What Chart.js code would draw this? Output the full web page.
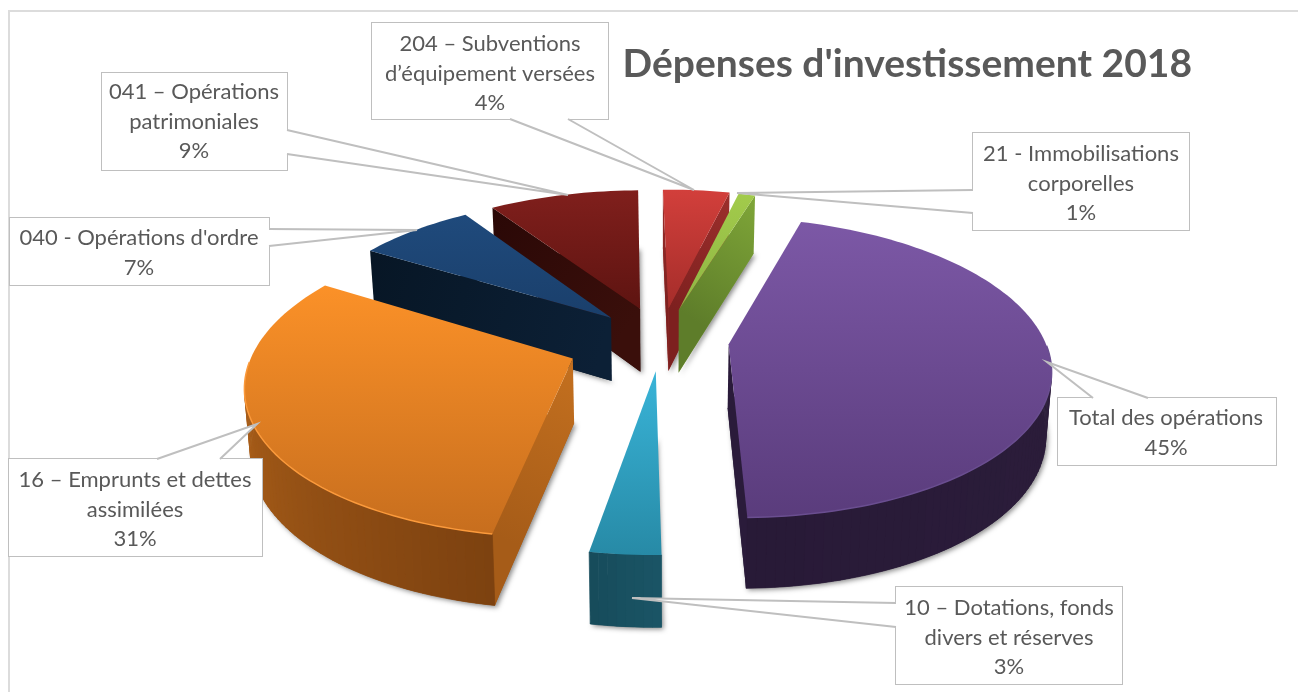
<!DOCTYPE html>
<html lang="fr">
<head>
<meta charset="utf-8">
<title>Dépenses d'investissement 2018</title>
<script src="https://cdn.jsdelivr.net/npm/chart.js@4"></script>
<style>
  html, body { margin: 0; background: #fff; }
  canvas { display: block; }
</style>
</head>
<body>
<canvas id="chart" width="1298" height="692"></canvas>
<script>
// Exploded 3D pie of the 2018 investment spending

const chartTitle = "Dépenses d'investissement 2018";
const categories = [
  '204 – Subventions d’équipement versées',
  '21 - Immobilisations corporelles',
  'Total des opérations',
  '10 – Dotations, fonds divers et réserves',
  '16 – Emprunts et dettes assimilées',
  '040 - Opérations d\'ordre',
  '041 – Opérations patrimoniales'
];
const categoryLines = [
  ['204 – Subventions', 'd’équipement versées'],
  ['21 - Immobilisations', 'corporelles'],
  ['Total des opérations'],
  ['10 – Dotations, fonds', 'divers et réserves'],
  ['16 – Emprunts et dettes', 'assimilées'],
  ['040 - Opérations d\'ordre'],
  ['041 – Opérations', 'patrimoniales']
];
const values = [4, 1, 45, 3, 31, 7, 9];

// top face, outer wall and cut wall colours for each slice
const sliceStyles = [
  { top: ['#d23f3b', '#a52d2a'], outer: ['#8a2523', '#8a2523'], cut: ['#7d201f', '#9c2f2c'] },
  { top: ['#a2cb4b', '#8fb544'], outer: ['#7fa638', '#7fa638'], cut: ['#5e7d2a', '#7fa638'] },
  { top: ['#7c58a6', '#5a3c7c'], outer: ['#30203f', '#281a37'], cut: ['#2a1b3a', '#2a1b3a'], rim: '#6a4e90' },
  { top: ['#39b4d8', '#278aa6'], outer: ['#1a5465', '#164b5a'], cut: ['#16495a', '#16495a'] },
  { top: ['#fb9128', '#c76e1e'], outer: ['#7d4210', '#c6701f'], cut: ['#c4701f', '#a65c18'], rim: '#fb9a3c' },
  { top: ['#1f4a7c', '#1a3f6b'], outer: ['#0b1e33', '#0b1e33'], cut: ['#0c2036', '#071625'] },
  { top: ['#801f1c', '#5e1411'], outer: ['#3a0f0b', '#3a0f0b'], cut: ['#3a0f0b', '#2a0806'] }
];

// label boxes with the wedge that points at their slice
const callouts = [
  { box: [372, 23, 608, 119], wedge: [[568, 119], [694, 190], [510, 119]], text: [490, 44] },
  { box: [973, 133, 1189, 230], wedge: [[973, 190], [737, 193], [973, 213]], text: [1081, 154] },
  { box: [1058, 398, 1276, 465], wedge: [[1148, 398], [1047, 362], [1093, 398]], text: [1166, 418] },
  { box: [896, 587, 1122, 684], wedge: [[896, 603], [632, 598], [896, 627]], text: [1009, 608] },
  { box: [9, 459, 262, 556], wedge: [[220, 459], [257, 424], [157, 459]], text: [135, 480] },
  { box: [10, 218, 269, 285], wedge: [[269, 229], [417, 230], [269, 246]], text: [139, 238] },
  { box: [102, 73, 287, 170], wedge: [[287, 130], [568, 195], [287, 154]], text: [194, 92] }
];

const PIE_X = 661;
const PIE_Y = 340;
const TILT = 0.46;
const PERSPECTIVE = 0.00048;
const DEPTH = 64;
const LINE_HEIGHT = 29.7;

function project(u, v, z) {
  const s = 1 / (1 - PERSPECTIVE * v);
  return {
    x: PIE_X + u * s * (1 - 0.015 * z),
    y: PIE_Y + TILT * v * s + z * DEPTH * Math.pow(s, 0.6)
  };
}

function mix(a, b, t) {
  const pa = parseInt(a.slice(1), 16), pb = parseInt(b.slice(1), 16);
  const ch = shift => Math.round(((pa >> shift) & 255) * (1 - t) + ((pb >> shift) & 255) * t);
  return `rgb(${ch(16)},${ch(8)},${ch(0)})`;
}

function tracePath(ctx, pts) {
  ctx.beginPath();
  pts.forEach((p, i) => i ? ctx.lineTo(p.x, p.y) : ctx.moveTo(p.x, p.y));
  ctx.closePath();
}

// negative shoelace area means the wall faces the viewer
function facesViewer(q) {
  let sum = 0;
  q.forEach((p, i) => {
    const n = q[(i + 1) % q.length];
    sum += p.x * n.y - n.x * p.y;
  });
  return sum < 0;
}

function drawSlice(ctx, arc, style) {
  const mid = (arc.startAngle + arc.endAngle) / 2;
  const e = arc.options.offset;
  const ox = Math.cos(mid) * e, oy = Math.sin(mid) * e;
  const R = arc.outerRadius;
  const rim = (a, z) => project(ox + R * Math.cos(a), oy + R * Math.sin(a), z);
  const apex = z => project(ox, oy, z);

  const steps = Math.max(2, Math.ceil((arc.endAngle - arc.startAngle) / (Math.PI / 120)));
  const angles = [];
  for (let i = 0; i <= steps; i++) {
    angles.push(arc.startAngle + (arc.endAngle - arc.startAngle) * i / steps);
  }
  const topFace = [apex(0), ...angles.map(a => rim(a, 0))];
  const bottomFace = [apex(1), ...angles.map(a => rim(a, 1))];

  // soft drop shadow from the underside
  ctx.save();
  ctx.shadowColor = 'rgba(0,0,0,0.45)';
  ctx.shadowBlur = 5;
  ctx.shadowOffsetX = 2;
  ctx.shadowOffsetY = 2;
  ctx.fillStyle = style.cut[1];
  tracePath(ctx, bottomFace);
  ctx.fill();
  ctx.restore();

  const fillWall = (q, color) => {
    if (!facesViewer(q)) return;
    tracePath(ctx, q);
    ctx.fillStyle = color;
    ctx.strokeStyle = typeof color === 'string' ? color : 'transparent';
    ctx.lineWidth = 0.7;
    ctx.fill();
    ctx.stroke();
  };
  const cutGradient = (p, q) => {
    const g = ctx.createLinearGradient(p.x, p.y, q.x, q.y);
    g.addColorStop(0, style.cut[0]);
    g.addColorStop(1, style.cut[1]);
    return g;
  };

  const a0 = arc.startAngle, a1 = arc.endAngle;
  fillWall([apex(0), rim(a0, 0), rim(a0, 1), apex(1)], cutGradient(apex(0), rim(a0, 0)));
  fillWall([rim(a1, 0), apex(0), apex(1), rim(a1, 1)], cutGradient(apex(0), rim(a1, 0)));
  for (let i = 0; i < steps; i++) {
    const quad = [rim(angles[i], 0), rim(angles[i + 1], 0), rim(angles[i + 1], 1), rim(angles[i], 1)];
    fillWall(quad, mix(style.outer[0], style.outer[1], i / steps));
  }

  const ys = topFace.map(p => p.y);
  const grad = ctx.createLinearGradient(0, Math.min(...ys), 0, Math.max(...ys));
  grad.addColorStop(0, style.top[0]);
  grad.addColorStop(1, style.top[1]);
  tracePath(ctx, topFace);
  ctx.fillStyle = grad;
  ctx.fill();

  // thin lit edge where the top meets the visible outer wall
  if (style.rim) {
    ctx.strokeStyle = style.rim;
    ctx.lineWidth = 1.5;
    ctx.beginPath();
    angles.forEach(a => {
      if (Math.sin(a) > 0) {
        const p = rim(a, 0);
        ctx.lineTo(p.x, p.y);
      }
    });
    ctx.stroke();
  }
}

function drawCallout(ctx, c, lines) {
  const [x0, y0, x1, y1] = c.box;
  ctx.beginPath();
  ctx.rect(x0, y0, x1 - x0, y1 - y0);
  ctx.fillStyle = '#fff';
  ctx.strokeStyle = '#bfbfbf';
  ctx.lineWidth = 2;
  ctx.stroke();
  ctx.fill();
  // wedge, open where it joins the box
  ctx.beginPath();
  c.wedge.forEach((p, i) => i ? ctx.lineTo(p[0], p[1]) : ctx.moveTo(p[0], p[1]));
  ctx.closePath();
  ctx.fill();
  ctx.beginPath();
  c.wedge.forEach((p, i) => i ? ctx.lineTo(p[0], p[1]) : ctx.moveTo(p[0], p[1]));
  ctx.stroke();

  ctx.fillStyle = '#595959';
  ctx.font = '22px Lato';
  ctx.textAlign = 'center';
  ctx.textBaseline = 'middle';
  lines.forEach((line, i) => ctx.fillText(line, c.text[0], c.text[1] + i * LINE_HEIGHT));
}

const pie3d = {
  id: 'pie3d',
  beforeDatasetsDraw(chart) {
    const ctx = chart.ctx;
    const arcs = chart.getDatasetMeta(0).data;

    // chart frame, only the top and left edges show
    ctx.save();
    ctx.strokeStyle = '#dcdcdc';
    ctx.lineWidth = 2;
    ctx.beginPath();
    ctx.moveTo(9, 692);
    ctx.lineTo(9, 11);
    ctx.lineTo(1298, 11);
    ctx.stroke();

    // back slices first
    const order = arcs.map((arc, i) => i).sort((a, b) => {
      const depth = arc => Math.sin((arc.startAngle + arc.endAngle) / 2) * arc.options.offset;
      return depth(arcs[a]) - depth(arcs[b]);
    });
    order.forEach(i => drawSlice(ctx, arcs[i], sliceStyles[i]));

    callouts.forEach((c, i) => {
      drawCallout(ctx, c, [...categoryLines[i], values[i] + '%']);
    });
    ctx.restore();
    return false;
  }
};

new Chart(document.getElementById('chart'), {
  type: 'pie',
  data: {
    labels: categories,
    datasets: [{
      data: values,
      backgroundColor: sliceStyles.map(s => s.top[0]),
      borderWidth: 0,
      offset: [72, 70, 68, 66, 95, 71, 73]
    }]
  },
  options: {
    responsive: false,
    animation: false,
    rotation: -1,
    radius: 316,
    layout: { padding: { right: 106 } },
    plugins: {
      legend: { display: false },
      tooltip: { enabled: false },
      title: {
        display: true,
        text: chartTitle,
        align: 'end',
        color: '#595959',
        font: { family: 'Lato', size: 39, weight: 'bold' },
        padding: { top: 41, bottom: 0 }
      }
    }
  },
  plugins: [pie3d]
});
</script>
</body>
</html>
